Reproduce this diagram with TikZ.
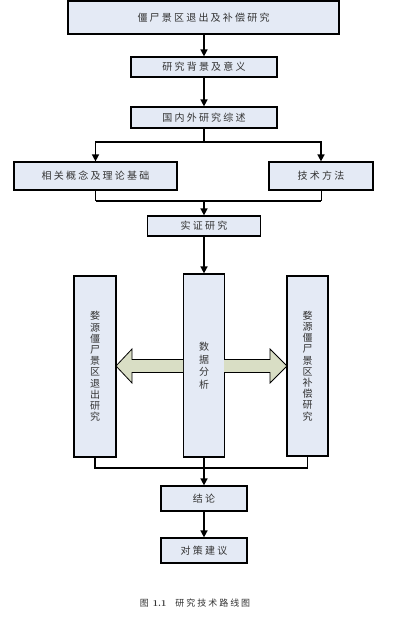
\documentclass[tikz,border=0pt]{standalone}
\usepackage{fontspec}
\newfontfamily\cjk[LetterSpace=22]{Noto Sans CJK SC}
\newfontfamily\cjkv{Noto Sans CJK SC}
\usetikzlibrary{arrows.meta}
\definecolor{boxfill}{HTML}{E4EAF5}
\definecolor{arrfill}{HTML}{D9DEC5}
\definecolor{txt}{HTML}{333333}
\tikzset{
  box/.style={draw=black, line width=1.2pt, fill=boxfill, inner sep=0pt, text=txt,
    font=\cjk\fontsize{10}{12}\selectfont},
  vbox/.style={draw=black, line width=1.2pt, fill=boxfill, inner sep=0pt, text=txt, align=center},
  conn/.style={line width=1.5pt, -{Triangle[length=7pt,width=7pt]}},
  joinline/.style={line width=1.5pt},
  thinline/.style={line width=0.9pt},
  blockarrow/.style={draw=black, line width=0.8pt, fill=arrfill},
}
\begin{document}
\begin{tikzpicture}[x=1pt,y=-1pt]
\useasboundingbox (0,0) rectangle (402,631);
% boxes
\node[box, minimum width=271pt, minimum height=33pt] (b1) at (203.5,17.5) {僵尸景区退出及补偿研究};
\node[box, minimum width=146pt, minimum height=20pt] (b2) at (204,67) {研究背景及意义};
\node[box, minimum width=146pt, minimum height=21pt] (b3) at (204,117.5) {国内外研究综述};
\node[box, minimum width=163pt, minimum height=28pt] (bL) at (95.5,176) {相关概念及理论基础};
\node[box, minimum width=104pt, minimum height=28pt] (bR) at (321,176) {技术方法};
\node[box, minimum width=113pt, minimum height=20pt] (b4) at (204,226) {实证研究};
\node[vbox, minimum width=41pt, minimum height=183pt,
  font=\cjkv\fontsize{10}{12.5}\selectfont] (cM) at (204,365.5) {数\\据\\分\\析};
\node[vbox, minimum width=42pt, minimum height=181pt,
  font=\cjkv\fontsize{10}{11.2}\selectfont] (cL) at (95,366.5) {婺\\源\\僵\\尸\\景\\区\\退\\出\\研\\究};
\node[vbox, minimum width=41pt, minimum height=180pt,
  font=\cjkv\fontsize{10}{11.2}\selectfont] (cR) at (307.5,366) {婺\\源\\僵\\尸\\景\\区\\补\\偿\\研\\究};
\node[box, minimum width=86pt, minimum height=25pt] (b5) at (204,498.5) {结论};
\node[box, minimum width=86pt, minimum height=25pt] (b6) at (204,550.5) {对策建议};
% caption
\node[text=txt, font=\cjk\fontsize{9}{11}\selectfont] (cap) at (195,603)
  {图 {\rmfamily\bfseries 1.1}\quad 研究技术路线图};
% connectors
\draw[conn] (b1.south -| b2.north) -- (b2.north);
\draw[conn] (b2.south) -- (b3.north);
\coordinate (j1) at (204,142);
\draw[joinline] (b3.south) -- (j1);
\draw[conn] (j1) -| (bL.north);
\draw[conn] (j1) -| (bR.north);
\coordinate (j2) at (204,201);
\draw[thinline] (bL.south) -- (bL.south |- j2);
\draw[thinline] (bR.south) -- (bR.south |- j2);
\draw[joinline] (bL.south |- j2) -- (bR.south |- j2);
\draw[conn] (j2) -- (b4.north);
\draw[conn] (b4.south) -- (cM.north);
\coordinate (j3) at (204,468);
\draw[joinline] (cL.south) -- (cL.south |- j3) -- (cR.south |- j3) -- (cR.south);
\draw[conn] (cM.south) -- (b5.north);
\draw[conn] (b5.south) -- (b6.north);
% block arrows
\draw[blockarrow] (183,359.5) -- (132,359.5) -- (132,349) -- (116,366) -- (132,383) -- (132,372.5) -- (183,372.5);
\draw[blockarrow] (224,359.5) -- (270,359.5) -- (270,349) -- (287,366) -- (270,383) -- (270,372.5) -- (224,372.5);
\end{tikzpicture}
\end{document}
